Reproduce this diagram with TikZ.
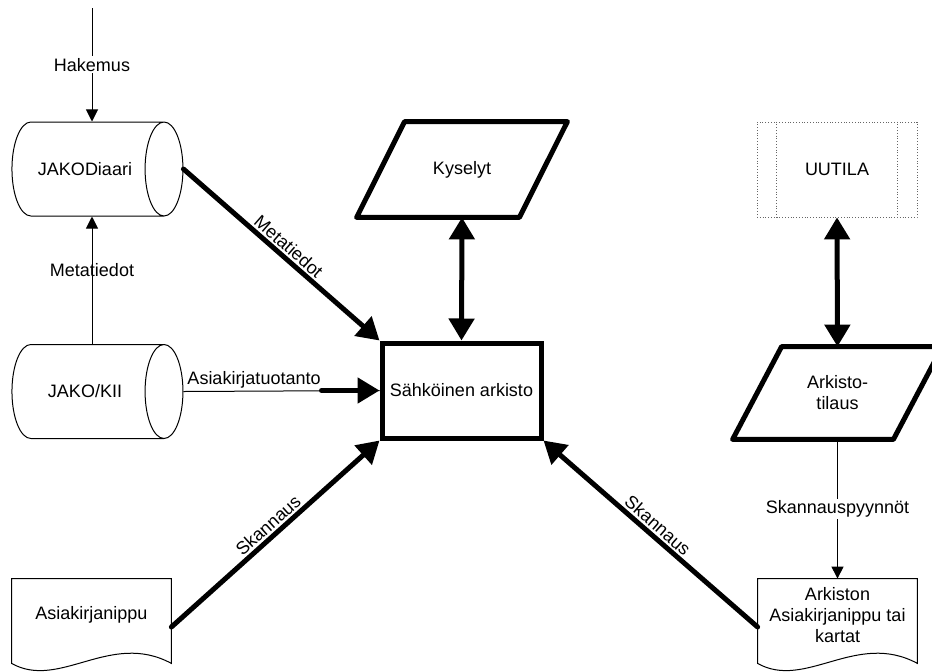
\documentclass[tikz,border=0pt]{standalone}
\usepackage{fontspec}
\setmainfont{Liberation Sans}
\usepackage{tikz}
\usetikzlibrary{shapes,arrows.meta}
\tikzset{every node/.style={align=center,inner sep=1pt}}
\tikzset{box/.style={rectangle,draw,line width=2.5pt,minimum width=79.5pt,minimum height=47.5pt}}
\tikzset{store/.style={cylinder,draw,line width=0.5pt,minimum height=85.5pt,minimum width=47pt,aspect=2.2}}
\tikzset{io/.style={rectangle,minimum width=81pt,minimum height=47.5pt}}
\tikzset{doc/.style={rectangle,minimum width=79.5pt,minimum height=36pt}}
\tikzset{fat/.style={line width=2.5pt,line cap=round,>={Triangle[length=11pt,width=12.5pt]},->}}
\tikzset{slim/.style={line width=0.5pt,>={Triangle[length=6pt,width=6pt]},->}}
\tikzset{lbl/.style={fill=white}}

\begin{document}
\begin{tikzpicture}[x=0.5pt,y=-0.5pt,font=\fontsize{9}{10.5}\selectfont]
\useasboundingbox (0,0) rectangle (932,671);
% storages
\node[store] (diaari) at (85,169) {JAKODiaari};
\node[store] (kii) at (85,391.5) {JAKO/KII};
% archive
\node[box] (arkisto) at (461.5,390.5) {Sähköinen arkisto};
% queries
\node[io] (kysely) at (462,169.5) {Kyselyt};
\draw[line width=2.5pt,line join=round] ([xshift=12pt]kysely.north west) -- ([xshift=12pt]kysely.north east)
  -- ([xshift=-12pt]kysely.south east) -- ([xshift=-12pt]kysely.south west) -- cycle;
\node[io,draw,densely dotted,black!60,text=black,minimum width=80pt] (uutila) at (837,169.5) {UUTILA};
\draw[densely dotted,black!60] ([xshift=10pt]uutila.north west) -- ([xshift=10pt]uutila.south west);
\draw[densely dotted,black!60] ([xshift=-10pt]uutila.north east) -- ([xshift=-10pt]uutila.south east);
\node[io,minimum width=80pt,minimum height=46pt] (tilaus) at (837.5,393) {Arkisto-\\tilaus};
\draw[line width=2.5pt,line join=round] ([xshift=12.25pt]tilaus.north west) -- ([xshift=12.25pt]tilaus.north east)
  -- ([xshift=-12.25pt]tilaus.south east) -- ([xshift=-12.25pt]tilaus.south west) -- cycle;
% documents
\node[doc] (nippu) at (91.5,615) {Asiakirjanippu};
\draw[line width=0.5pt] (nippu.north west) -- (nippu.north east) -- ([yshift=-6pt]nippu.south east)
  .. controls +(-61,-33) and +(48,27) .. ([yshift=-6pt]nippu.south west) -- cycle;
\node[doc] (arkdoc) at (837.5,615) {Arkiston\\Asiakirjanippu tai\\kartat};
\draw[line width=0.5pt] (arkdoc.north west) -- (arkdoc.north east) -- ([yshift=-6pt]arkdoc.south east)
  .. controls +(-61,-33) and +(48,27) .. ([yshift=-6pt]arkdoc.south west) -- cycle;
% flows
\coordinate (in) at (92,8);
\draw[slim] (in) -- node[lbl]{Hakemus} (in |- diaari.north);
\draw[slim] (in |- kii.north) -- node[pos=0.58]{Metatiedot} (in |- diaari.south);
\draw[fat] (diaari.east) -- node[above,sloped]{Metatiedot} (arkisto.north west);
\draw[line width=0.5pt] (kii.east) -- node[above,pos=0.36]{Asiakirjatuotanto} (arkisto.west);
\draw[fat] ([xshift=-29pt]arkisto.west) -- (arkisto.west);
\draw[fat,<->] (kysely.south) -- (arkisto.north);
\draw[fat] ([yshift=-6pt]nippu.east) -- node[above,sloped]{Skannaus} (arkisto.south west);
\draw[fat,<-] (arkisto.south east) -- node[above,sloped]{Skannaus} ([yshift=-6pt]arkdoc.west);
\draw[fat,<->] (uutila.south) -- (tilaus.north);
\draw[slim] (tilaus.south) -- node[lbl]{Skannauspyynnöt} (arkdoc.north);
\end{tikzpicture}
\end{document}
